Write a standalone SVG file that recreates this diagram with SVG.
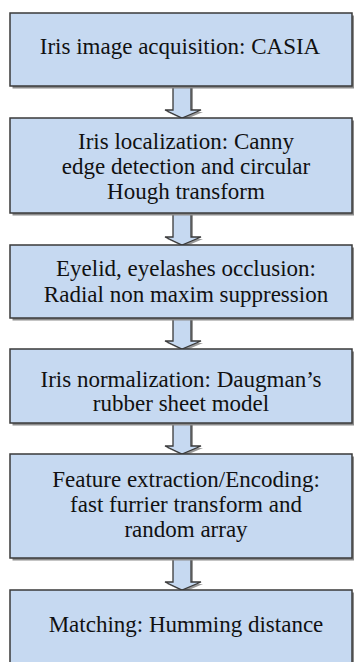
<svg xmlns="http://www.w3.org/2000/svg" width="354" height="662" viewBox="0 0 354 662">
<style>
.box{fill:#c6d9f1;stroke:#3a3a3a;stroke-width:1.5}
.sh{fill:#8c8c8c}
.arr{fill:#c6d9f1;stroke:#3a3a3a;stroke-width:1.3;stroke-linejoin:miter}
.ash{fill:#9a9a9a}
.t{font-family:'Liberation Serif','Times New Roman',serif;font-size:23px;fill:#111;text-anchor:middle}
</style>
<rect width="354" height="662" fill="#ffffff"/>
<g id="connectors">
  <g id="a1"><polygon class="ash" points="175,86 193,86 193,112 203,112 184,120 167,112 175,112"/><polygon class="arr" points="173,86 191,86 191,110 201,110 182,118 165,110 173,110"/></g>
  <g id="a2"><polygon class="ash" points="175,213 193,213 193,239 203,239 184,247 167,239 175,239"/><polygon class="arr" points="173,213 191,213 191,237 201,237 182,245 165,237 173,237"/></g>
  <g id="a3"><polygon class="ash" points="175,318 193,318 193,343 203,343 184,351 167,343 175,343"/><polygon class="arr" points="173,318 191,318 191,341 201,341 182,349 165,341 173,341"/></g>
  <g id="a4"><polygon class="ash" points="175,423 193,423 193,448 203,448 184,456 167,448 175,448"/><polygon class="arr" points="173,423 191,423 191,446 201,446 182,454 165,446 173,446"/></g>
  <g id="a5"><polygon class="ash" points="175,558 193,558 193,584 203,584 184,592 167,584 175,584"/><polygon class="arr" points="173,558 191,558 191,582 201,582 182,590 165,582 173,582"/></g>
</g>
<g id="n1"><rect class="sh" x="12.5" y="15.5" width="342" height="73"/><rect class="box" x="10" y="13" width="342" height="73"/>
  <text class="t" x="180" y="54">Iris image acquisition: CASIA</text></g>
<g id="n2"><rect class="sh" x="12.5" y="120.5" width="342" height="95"/><rect class="box" x="10" y="118" width="342" height="95"/>
  <text class="t" x="186" y="149">Iris localization: Canny</text>
  <text class="t" x="186" y="174">edge detection and circular</text>
  <text class="t" x="186" y="199">Hough transform</text></g>
<g id="n3"><rect class="sh" x="12.5" y="247.5" width="342" height="73"/><rect class="box" x="10" y="245" width="342" height="73"/>
  <text class="t" x="186" y="276">Eyelid, eyelashes occlusion:</text>
  <text class="t" x="186" y="302">Radial non maxim suppression</text></g>
<g id="n4"><rect class="sh" x="12.5" y="351.5" width="342" height="74"/><rect class="box" x="10" y="349" width="342" height="74"/>
  <text class="t" x="181" y="387">Iris normalization: Daugman’s</text>
  <text class="t" x="181" y="411">rubber sheet model</text></g>
<g id="n5"><rect class="sh" x="12.5" y="456.5" width="342" height="104"/><rect class="box" x="10" y="454" width="342" height="104"/>
  <text class="t" x="186" y="487">Feature extraction/Encoding:</text>
  <text class="t" x="186" y="512">fast furrier transform and</text>
  <text class="t" x="186" y="537">random array</text></g>
<g id="n6"><rect class="sh" x="12.5" y="592.5" width="342" height="90"/><rect class="box" x="10" y="590" width="342" height="90"/>
  <text class="t" x="186" y="632">Matching: Humming distance</text></g>
</svg>
